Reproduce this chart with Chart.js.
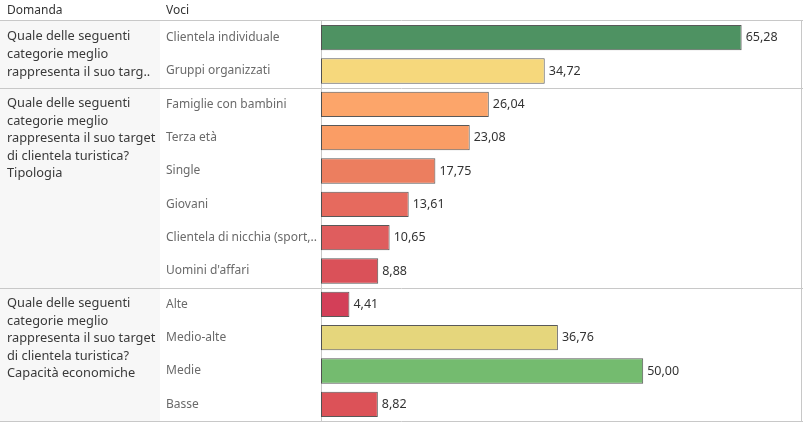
<!DOCTYPE html>
<html><head><meta charset="utf-8">
<script src="https://cdn.jsdelivr.net/npm/chart.js@4"></script>
<style>html,body{margin:0;padding:0;background:#fff;}#wrap{width:803px;height:422px;position:relative;}</style>
</head><body><div id="wrap"><canvas id="c" width="803" height="422"></canvas></div>
<script>
// ---- data ----
const voci = ["Clientela individuale","Gruppi organizzati","Famiglie con bambini","Terza età","Single","Giovani","Clientela di nicchia (sport,..","Uomini d'affari","Alte","Medio-alte","Medie","Basse"];
const valori = [65.28,34.72,26.04,23.08,17.75,13.61,10.65,8.88,4.41,36.76,50.00,8.82];
const domande = [
  "Quale delle seguenti\ncategorie meglio\nrappresenta il suo targ..",
  "Quale delle seguenti\ncategorie meglio\nrappresenta il suo target\ndi clientela turistica?\nTipologia",
  "Quale delle seguenti\ncategorie meglio\nrappresenta il suo target\ndi clientela turistica?\nCapacità economiche"
];
const righePerDomanda = [2,6,4];
const intestazioni = ["Domanda","Voci"];

// ---- styles ----
const barColors = ["#4e9262","#f6d87c","#fca56a","#fa9d65","#ec7e5f","#e66a5e","#df5d5e","#da5159","#d33f58","#e5d67c","#74bb6f","#dc5258"];
const FONT = "'Noto Sans', sans-serif";

const tablePlugin = {
  id: 'table',
  beforeDraw(chart){
    const ctx = chart.ctx, ca = chart.chartArea;
    ctx.save();
    ctx.fillStyle = '#f7f7f7';
    ctx.fillRect(0, ca.top, 160, ca.bottom - ca.top);
    ctx.restore();
  },
  afterDraw(chart){
    const ctx = chart.ctx, ca = chart.chartArea, y = chart.scales.y, W = chart.width;
    ctx.save();
    ctx.fillStyle = '#333';
    ctx.font = "12px " + FONT;
    ctx.textBaseline = 'middle';
    ctx.textAlign = 'left';
    ctx.fillText(intestazioni[0], 7, 11);
    ctx.fillText(intestazioni[1], 166, 11);
    ctx.strokeStyle = '#c8c8c8';
    ctx.lineWidth = 1;
    const hline = (yy)=>{ctx.beginPath();ctx.moveTo(0,Math.round(yy)+0.5);ctx.lineTo(W,Math.round(yy)+0.5);ctx.stroke();};
    hline(ca.top - 1);
    let idx = 0;
    ctx.font = "12.8px " + FONT;
    ctx.fillStyle = '#3a3a3a';
    domande.forEach((q, k) => {
      const firstCenter = y.getPixelForValue(idx);
      q.split("\n").forEach((ln, j) => {
        ctx.fillText(ln, 7, firstCenter - 1 + j * 17.6);
      });
      idx += righePerDomanda[k];
      if (idx < voci.length) {
        const sep = (y.getPixelForValue(idx - 1) + y.getPixelForValue(idx)) / 2;
        hline(sep);
      }
    });
    hline(ca.bottom);
    ctx.beginPath();ctx.moveTo(W-1.5, ca.top-1);ctx.lineTo(W-1.5, ca.bottom);ctx.stroke();
    const meta = chart.getDatasetMeta(0);
    ctx.font = "12.5px " + FONT;
    ctx.fillStyle = '#333';
    meta.data.forEach((bar, i) => {
      ctx.fillText(valori[i].toFixed(2).replace('.', ','), bar.x + 4, bar.y);
    });
    ctx.restore();
  }
};

new Chart(document.getElementById('c'), {
  type: 'bar',
  data: {
    labels: voci,
    datasets: [{
      data: valori,
      backgroundColor: barColors,
      borderColor: 'rgba(60,60,60,0.85)',
      borderWidth: 1,
      borderSkipped: false,
      barPercentage: 0.76,
      categoryPercentage: 1
    }]
  },
  options: {
    indexAxis: 'y',
    responsive: false,
    animation: false,
    layout: { padding: { left: 166, top: 21, right: 0, bottom: 1 } },
    plugins: { legend: { display: false }, tooltip: { enabled: false } },
    scales: {
      x: { display: false, min: 0, max: 74.8 },
      y: {
        afterFit(s){ s.width = 155; s.paddingTop = 0; s.paddingBottom = 0; },
        grid: { display: false, drawTicks: false },
        border: { display: true, color: '#c8c8c8' },
        ticks: { crossAlign: 'far', padding: 0, color: '#6a6a6a', font: { family: FONT, size: 12 } }
      }
    }
  },
  plugins: [tablePlugin]
});
</script></body></html>
